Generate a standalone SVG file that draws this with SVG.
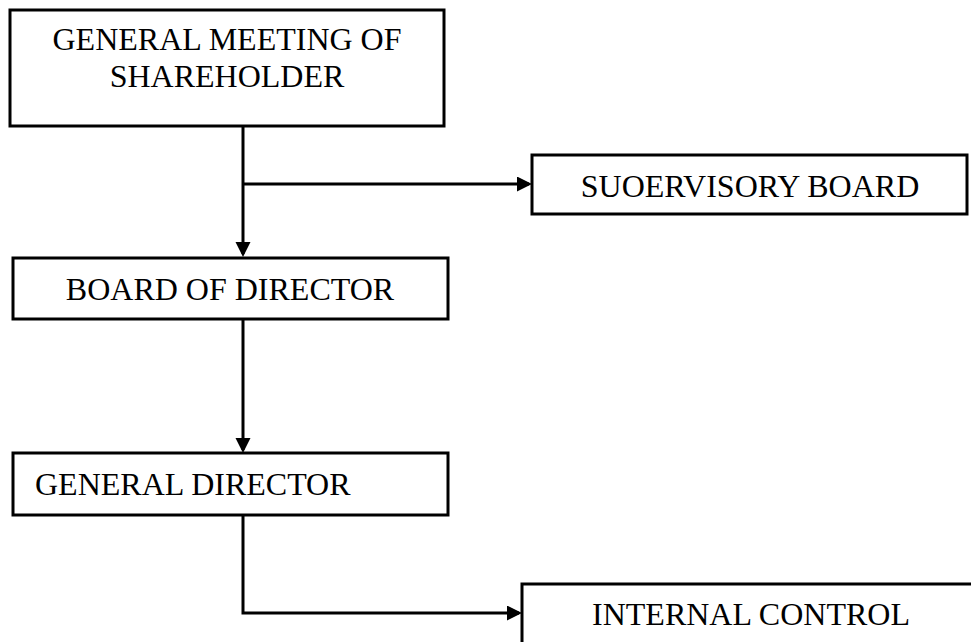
<svg xmlns="http://www.w3.org/2000/svg" width="971" height="642" viewBox="0 0 971 642">
<style>
.box{fill:#fff;stroke:#000;stroke-width:3}
.lbl{font-family:"Liberation Serif","Times New Roman",serif;font-size:32px;fill:#000}
.mid{text-anchor:middle}
.conn{fill:none;stroke:#000;stroke-width:3}
</style>
<defs>
<marker id="arr" markerUnits="userSpaceOnUse" markerWidth="16" markerHeight="16" refX="12" refY="7.5" orient="auto">
<path d="M0,0 L15,7.5 L0,15 z" fill="#000"/>
</marker>
</defs>
<rect width="971" height="642" fill="#fff"/>
<g id="connectors">
<path class="conn" d="M243,126 V254" marker-end="url(#arr)"/>
<path class="conn" d="M243,184 H529" marker-end="url(#arr)"/>
<path class="conn" d="M243,319 V450" marker-end="url(#arr)"/>
<path class="conn" d="M243,515 V613 H519" marker-end="url(#arr)"/>
</g>
<g id="node-general-meeting">
<rect class="box" x="10" y="10" width="434" height="116"/>
<text class="lbl mid" x="227" y="50">GENERAL MEETING OF</text>
<text class="lbl mid" x="227" y="87">SHAREHOLDER</text>
</g>
<g id="node-supervisory">
<rect class="box" x="532" y="155" width="435" height="59"/>
<text class="lbl mid" x="750" y="197">SUOERVISORY BOARD</text>
</g>
<g id="node-board">
<rect class="box" x="13" y="258" width="435" height="61"/>
<text class="lbl mid" x="230" y="300">BOARD OF DIRECTOR</text>
</g>
<g id="node-general-director">
<rect class="box" x="13" y="453" width="435" height="62"/>
<text class="lbl" x="35" y="495">GENERAL DIRECTOR</text>
</g>
<g id="node-internal-control">
<rect class="box" x="522" y="584" width="460" height="80"/>
<text class="lbl mid" x="751" y="625">INTERNAL CONTROL</text>
</g>
</svg>
